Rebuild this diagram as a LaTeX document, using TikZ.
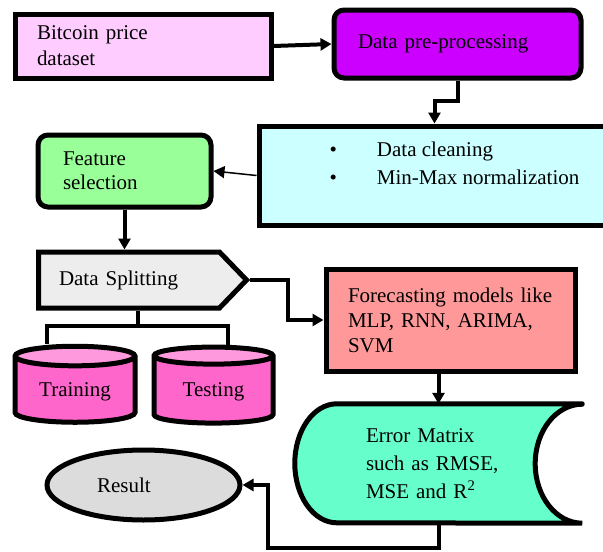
\documentclass[tikz,border=0pt]{standalone}
\usepackage{fontspec}
\setmainfont{Liberation Serif}
\usetikzlibrary{arrows.meta,shapes.geometric,shapes.symbols,backgrounds,calc}

\definecolor{dsetpink}{HTML}{FFCCFF}
\definecolor{prepurple}{HTML}{CC00FF}
\definecolor{cleancyan}{HTML}{CCFFFF}
\definecolor{featgreen}{HTML}{99FF99}
\definecolor{splitgray}{HTML}{EDEDED}
\definecolor{modelred}{HTML}{FF9999}
\definecolor{cylpink}{HTML}{FF66CC}
\definecolor{cyltop}{HTML}{FF99DD}
\definecolor{errgreen}{HTML}{66FFCC}
\definecolor{resgray}{HTML}{DCDCDC}

\begin{document}
\begin{tikzpicture}[x=1pt,y=1pt,>={Triangle[length=11pt,width=12pt]},
  every node/.style={font=\fontsize{21}{26}\selectfont},
  box/.style={draw,line width=5pt,align=left,inner ysep=0pt},
  link/.style={->,line width=4pt},
  wire/.style={line width=4pt},
  db/.style={cylinder,shape border rotate=90,draw,line width=5pt,
    cylinder uses custom fill,cylinder body fill=cylpink,cylinder end fill=cyltop,aspect=0.25}]

\useasboundingbox (0,0) rectangle (603,-552);

\node[box,fill=dsetpink,minimum width=256,minimum height=64,inner xsep=22pt,text width=212pt] (data) at (143,-46) {Bitcoin price\\dataset};
\node[box,fill=prepurple,rounded corners=10pt,minimum width=247,minimum height=68,inner xsep=24pt,text width=199pt] (prep) at (457.5,-44) {Data pre-processing};
\node[box,fill=cleancyan,minimum width=351,minimum height=99,inner sep=0pt] (clean) at (434.5,-175.5)
  {\raisebox{5pt}[0pt][0pt]{\fontsize{21}{28}\selectfont\begin{tabular}{@{\hspace{40pt}}l@{\hspace{40pt}}l@{}}
   \textbullet & Data cleaning\\ \textbullet & Min-Max normalization\end{tabular}}};
\node[box,fill=featgreen,rounded corners=10pt,minimum width=173,minimum height=72,inner xsep=25pt,text width=123pt,font=\fontsize{21}{24}\selectfont] (feat) at (124.5,-171) {Feature\\selection};
\node[signal,signal to=east,signal pointer angle=92,draw,line width=5pt,fill=splitgray,minimum width=208,minimum height=56,text width=140pt,align=left] (split) at (129,-280) {Data Splitting};
\node[box,fill=modelred,minimum width=249,minimum height=102,inner xsep=22pt,text width=205pt,font=\fontsize{21}{25}\selectfont] (model) at (450.5,-320) {Forecasting models like\\MLP, RNN, ARIMA,\\SVM};
\node[db,minimum width=120,minimum height=76] (train) at (75,-392) {Training};
\node[db,minimum width=119,minimum height=76] (test) at (213.5,-392) {Testing};
\node[minimum width=287,minimum height=119,inner xsep=71pt,text width=145pt,align=left,font=\fontsize{21}{28}\selectfont] (err) at (438.5,-463.5) {Error Matrix\\such as RMSE,\\MSE and R\textsuperscript{2}};
\node[draw,ellipse,line width=5pt,fill=resgray,minimum width=193,minimum height=70,text width=93pt,align=left] (res) at (143.5,-485) {Result};

\begin{scope}[on background layer]
\draw[line width=5pt,fill=errgreen,line cap=round] (err.north east) -- ([xshift=42pt]err.north west)
  arc[start angle=90,end angle=270,x radius=42pt,y radius=59.5pt] -- (err.south east)
  arc[start angle=-90,end angle=-270,x radius=47pt,y radius=59.5pt];
\end{scope}

\coordinate (trainin) at ([xshift=-28pt]train.north);
\coordinate (testin) at ([xshift=14.5pt]test.north);
\coordinate (stem) at ($(trainin)!0.5!(testin)$);

\draw[link] (data.east) -- (prep.west);
\draw[link] (prep.south) -- ++(0,-20) -| (clean.north);
\draw[->,line width=1.5pt] (clean.west) -- (feat.east);
\draw[link] (feat.south) -- (feat.south |- split.north);
\draw[link] (split.east) -- ++(38,0) |- (model.west);
\draw[wire] (stem |- split.south) -- ([yshift=18pt]stem);
\draw[wire] (trainin) -- ++(0,18) -| (testin);
\draw[link] (err.north |- model.south) -- (err.north);
\draw[link] (err.south) -- ++(0,-25) -- ++(-170.5,0) |- (res.east);
\end{tikzpicture}
\end{document}
